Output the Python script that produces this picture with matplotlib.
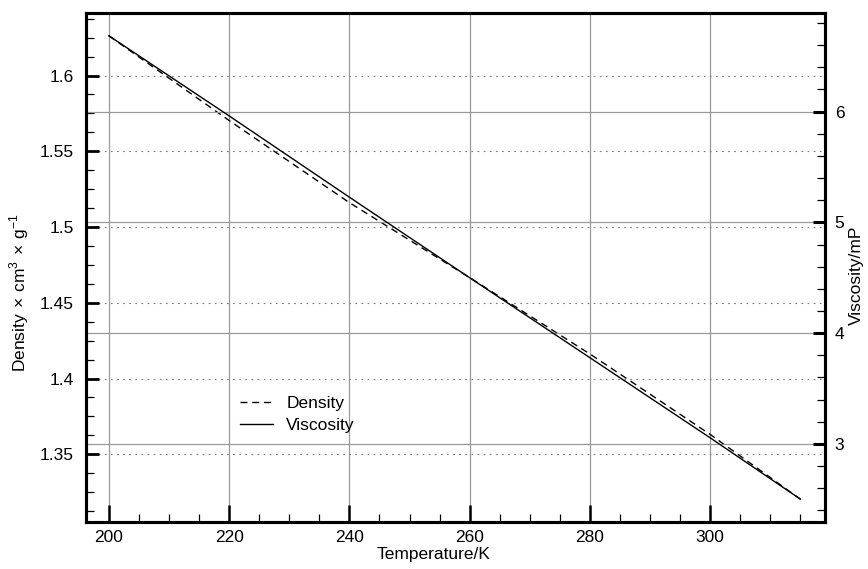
import numpy as np
import matplotlib.pyplot as plt
from matplotlib.ticker import MultipleLocator

plt.rcParams['font.family'] = ['Liberation Sans', 'DejaVu Sans']
plt.rcParams['mathtext.fontset'] = 'custom'
plt.rcParams['mathtext.rm'] = 'Liberation Sans'

temperature = [200, 220, 240, 260, 280, 300, 315]
density = [1.6262, 1.5703, 1.5161, 1.4666, 1.4162, 1.3631, 1.3204]
viscosity = [6.684, 5.961, 5.227, 4.500, 3.778, 3.055, 2.501]

fs = 12.5

fig = plt.figure(figsize=(8.68, 5.69), dpi=100)
ax = fig.add_axes([0.0991, 0.0826, 0.8514, 0.8944])
ax2 = ax.twinx()

ax.set_xlim(196.2, 319.1)
ax.set_ylim(1.3053, 1.6412)
ax2.set_ylim(2.295, 6.889)

ax.xaxis.set_major_locator(MultipleLocator(20))
ax.xaxis.set_minor_locator(MultipleLocator(5))
ax.yaxis.set_minor_locator(MultipleLocator(0.0125))
ax2.yaxis.set_major_locator(MultipleLocator(1))
ax2.yaxis.set_minor_locator(MultipleLocator(0.2))

ax.set_yticks([1.35, 1.4, 1.45, 1.5, 1.55, 1.6])
ax.set_yticklabels(['1.35', '1.4', '1.45', '1.5', '1.55', '1.6'])

# grid: solid verticals, dotted for left scale, solid for right scale
ax.grid(True, axis='x', color='#999999', lw=0.9, ls='-')
ax.grid(True, axis='y', color='#777777', lw=0.8, ls=(0, (1.5, 4)))
ax2.grid(True, axis='y', color='#999999', lw=0.9, ls='-')
ax.set_axisbelow(True)

ld, = ax.plot(temperature, density, color='black', lw=1.0, ls=(0, (5, 3.5)),
              label='Density')
lv, = ax2.plot(temperature, viscosity, color='black', lw=1.0, ls='-',
               label='Viscosity')

for a in (ax, ax2):
    for s in a.spines.values():
        s.set_linewidth(2.2)
ax.tick_params(which='major', direction='in', length=9, width=2.0,
               labelsize=fs, top=False, right=False, pad=9)
ax.tick_params(which='minor', direction='in', length=6, width=0.9,
               top=False, right=False)
ax.tick_params(axis='x', which='major', length=12, width=1.8, pad=6)
ax2.tick_params(which='major', direction='in', length=9, width=2.2,
                labelsize=fs, pad=7)
ax2.tick_params(which='minor', direction='in', length=6, width=0.9)

ax.set_xlabel('Temperature/K', fontsize=fs)
ax.xaxis.set_label_coords(0.47, -0.05)
ax.set_ylabel(r'Density$\,\times\,$cm$^{3}$$\,\times\,$g$^{-1}$', fontsize=fs)
ax.yaxis.set_label_coords(-0.074, 0.45)
ax2.set_ylabel('Viscosity/mP', fontsize=fs)
ax2.yaxis.set_label_coords(1.0325, 0.485)

ax2.legend(handles=[ld, lv], loc='upper left', bbox_to_anchor=(0.196, 0.265),
           frameon=False, fontsize=fs, handlelength=1.9, handletextpad=0.8,
           borderpad=0, labelspacing=0.4)

fig.savefig('out.png', dpi=100)
